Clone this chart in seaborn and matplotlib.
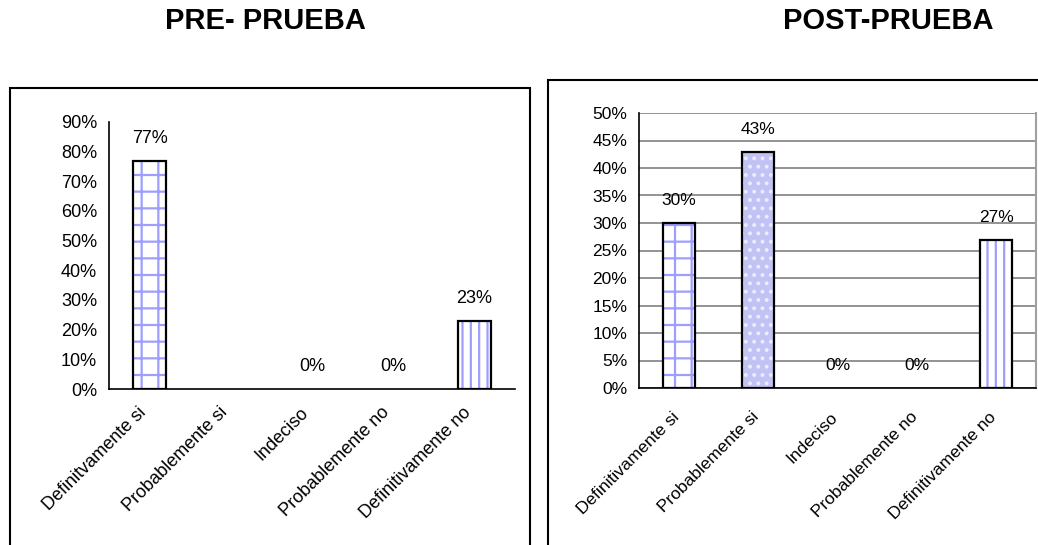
import numpy as np
import pandas as pd
import matplotlib
matplotlib.use("Agg")
import matplotlib.pyplot as plt
import matplotlib.transforms as mtransforms
import seaborn as sns
from matplotlib.patches import Rectangle
from matplotlib.ticker import PercentFormatter, FixedLocator

pre_categorias = ["Definitvamente si", "Probablemente si", "Indeciso",
                  "Probablemente no", "Definitivamente no"]
post_categorias = ["Definitivamente si", "Probablemente si", "Indeciso",
                   "Probablemente no", "Definitivamente no"]
pre_valores = [0.77, 0.0, 0.0, 0.0, 0.23]
post_valores = [0.30, 0.43, 0.0, 0.0, 0.27]
pre_etiquetas = ["77%", "", "0%", "0%", "23%"]
post_etiquetas = ["30%", "43%", "0%", "0%", "27%"]

sns.set_style("white")
plt.rcParams["font.family"] = ["Liberation Sans", "DejaVu Sans"]
plt.rcParams["hatch.linewidth"] = 1.6
for k in ["text.color", "axes.labelcolor", "xtick.color", "ytick.color"]:
    plt.rcParams[k] = "black"

azul = "#9e9eff"
tramas = {0: ("+", "white", azul), 1: ("..", "#c2c2f4", "#ececff"), 4: ("||", "white", azul)}


def dibujar(ax, categorias, valores, etiquetas, ymax, paso, grid, ysize, xsize, xpad, xshift):
    df = pd.DataFrame({"cat": categorias, "val": valores})
    sns.barplot(data=df, x="cat", y="val", ax=ax, color="white", width=0.4,
                saturation=1, linewidth=0)
    bars = list(ax.patches)
    for i, p in enumerate(bars):
        if i in tramas:
            h, fc, hc = tramas[i]
            p.set_facecolor(fc)
            p.set_edgecolor(hc)
            p.set_hatch(h)
            p.set_linewidth(0)
        if p.get_height() > 0:
            ax.add_patch(Rectangle(p.get_xy(), p.get_width(), p.get_height(),
                                   fill=False, edgecolor="black", lw=1.6, zorder=3))
        if etiquetas[i]:
            ax.annotate(etiquetas[i], (p.get_x() + p.get_width() / 2, p.get_height()),
                        xytext=(0, 16), textcoords="offset points",
                        ha="center", va="center", fontsize=ysize)
    ax.set_ylim(0, ymax)
    ax.set_xlim(-0.5, 4.5)
    ax.set_yticks(np.arange(0, ymax + 1e-9, paso))
    ax.yaxis.set_major_formatter(PercentFormatter(xmax=1, decimals=0))
    ax.xaxis.set_minor_locator(FixedLocator(np.arange(-0.5, 5, 1)))
    ax.tick_params(axis="x", which="major", length=0, pad=xpad)
    ax.tick_params(axis="x", which="minor", length=5, width=1, color="black", direction="out")
    ax.tick_params(axis="y", length=5, width=1, color="black", direction="out", labelsize=ysize)
    off = mtransforms.ScaledTranslation(xshift / 100, 0, fig.dpi_scale_trans)
    for lab in ax.get_xticklabels():
        lab.set_rotation(45)
        lab.set_ha("right")
        lab.set_va("center")
        lab.set_rotation_mode("anchor")
        lab.set_fontsize(xsize)
        lab.set_transform(lab.get_transform() + off)
    ax.set_xlabel("")
    ax.set_ylabel("")
    for s in ["left", "bottom"]:
        ax.spines[s].set_color("black")
        ax.spines[s].set_linewidth(1.2)
    ax.spines["top"].set_visible(False)
    if grid:
        ax.yaxis.grid(True, color="#808080", lw=1.2)
        ax.set_axisbelow(True)
        ax.spines["right"].set_color("#a0a0a0")
        ax.spines["right"].set_linewidth(1.5)
    else:
        ax.spines["right"].set_visible(False)


fig = plt.figure(figsize=(10.38, 5.45), dpi=100)

fig.add_artist(Rectangle((10 / 1038, -0.02), 520 / 1038, (545 - 88) / 545 + 0.02,
                         transform=fig.transFigure, fill=False, edgecolor="black", lw=1.5))
fig.add_artist(Rectangle((548 / 1038, -0.02), 0.5, (545 - 80) / 545 + 0.02,
                         transform=fig.transFigure, fill=False, edgecolor="black", lw=1.5))

ax1 = fig.add_axes([109 / 1038, (545 - 389) / 545, 406 / 1038, 267 / 545])
ax2 = fig.add_axes([639 / 1038, (545 - 388) / 545, 397 / 1038, 275 / 545])

dibujar(ax1, pre_categorias, pre_valores, pre_etiquetas, 0.9, 0.1, False, 13, 13, 15, -6)
dibujar(ax2, post_categorias, post_valores, post_etiquetas, 0.5, 0.05, True, 12.5, 12.5, 19, -2)

fig.text(265 / 1038, 1 - 21 / 545, "PRE- PRUEBA", ha="center", va="center",
         fontsize=21, fontweight="bold")
fig.text(888 / 1038, 1 - 21 / 545, "POST-PRUEBA", ha="center", va="center",
         fontsize=21, fontweight="bold")

fig.savefig("out.png", dpi=100)
